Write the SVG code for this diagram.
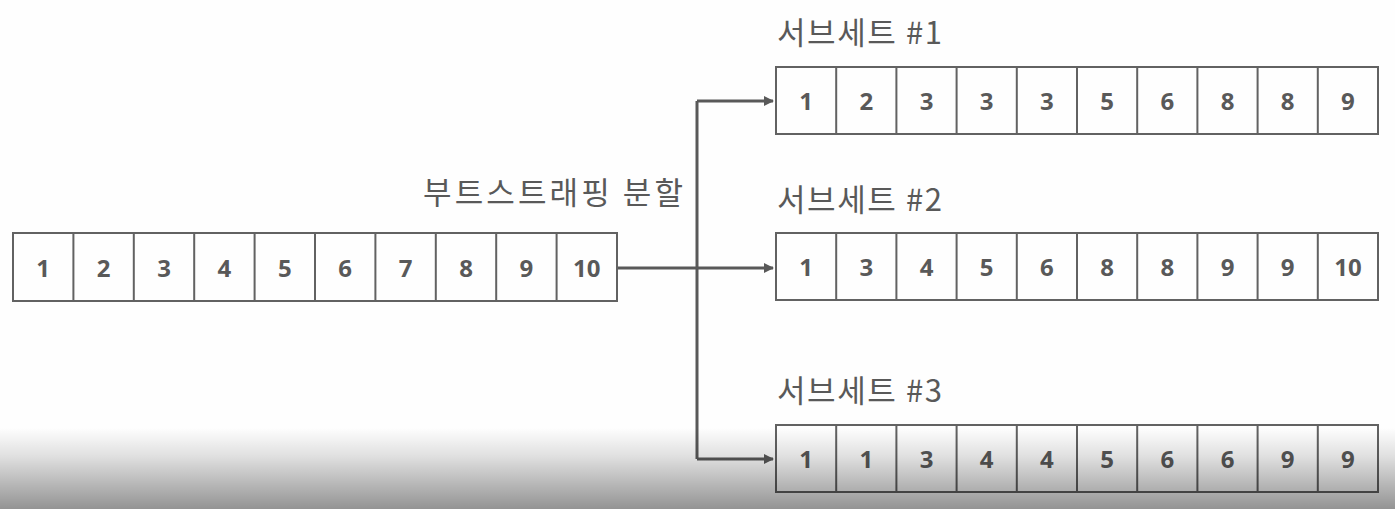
<svg xmlns="http://www.w3.org/2000/svg" width="1395" height="509" viewBox="0 0 1395 509">
<defs>
<style>
.cell{fill:none;stroke:#626262;stroke-width:2}
.num{font-family:"Open Sans","Liberation Sans",sans-serif;font-weight:700;font-size:24px;fill:#595959;text-anchor:middle}
.lbl{font-family:"Noto Sans CJK KR","Liberation Sans",sans-serif;font-size:31px;fill:#595959}
.conn{fill:none;stroke:#595959;stroke-width:3}
</style>
<marker id="ah" markerWidth="10" markerHeight="10" refX="9" refY="5" orient="auto" markerUnits="userSpaceOnUse">
<path d="M0,0 L10,5 L0,10 z" fill="#595959"/>
</marker>
<linearGradient id="shade" x1="0" y1="0" x2="0" y2="1">
<stop offset="0" stop-color="#000" stop-opacity="0"/>
<stop offset="0.35" stop-color="#000" stop-opacity="0.12"/>
<stop offset="1" stop-color="#000" stop-opacity="0.42"/>
</linearGradient>
</defs>
<rect width="1395" height="509" fill="#fefefe"/>
<g id="connectors">
<path class="conn" d="M617,268 H697 M697,101 V459 M697,101 H773" marker-end="url(#ah)"/>
<path class="conn" d="M697,268 H773" marker-end="url(#ah)"/>
<path class="conn" d="M697,459 H773" marker-end="url(#ah)"/>
</g>
<g id="source">
<rect class="cell" x="13" y="233" width="604" height="68"/>
<path class="cell" d="M73.4,233V301M133.8,233V301M194.2,233V301M254.6,233V301M315,233V301M375.4,233V301M435.8,233V301M496.2,233V301M556.6,233V301"/>
<text class="num" y="277"><tspan x="43.2">1</tspan><tspan x="103.6">2</tspan><tspan x="164">3</tspan><tspan x="224.4">4</tspan><tspan x="284.8">5</tspan><tspan x="345.2">6</tspan><tspan x="405.6">7</tspan><tspan x="466">8</tspan><tspan x="526.4">9</tspan><tspan x="586.8">10</tspan></text>
</g>
<g id="split-label">
<text class="lbl" x="423" y="204" textLength="260" lengthAdjust="spacing">부트스트래핑 분할</text>
</g>
<g id="subset1">
<text class="lbl" x="777" y="44" textLength="165" lengthAdjust="spacing">서브세트 #1</text>
<rect class="cell" x="776" y="67" width="602" height="67"/>
<path class="cell" d="M836.2,67V134M896.4,67V134M956.6,67V134M1016.8,67V134M1077,67V134M1137.2,67V134M1197.4,67V134M1257.6,67V134M1317.8,67V134"/>
<text class="num" y="110"><tspan x="806.1">1</tspan><tspan x="866.3">2</tspan><tspan x="926.5">3</tspan><tspan x="986.7">3</tspan><tspan x="1046.9">3</tspan><tspan x="1107.1">5</tspan><tspan x="1167.3">6</tspan><tspan x="1227.5">8</tspan><tspan x="1287.7">8</tspan><tspan x="1347.9">9</tspan></text>
</g>
<g id="subset2">
<text class="lbl" x="777" y="211" textLength="165" lengthAdjust="spacing">서브세트 #2</text>
<rect class="cell" x="776" y="233" width="602" height="67"/>
<path class="cell" d="M836.2,233V300M896.4,233V300M956.6,233V300M1016.8,233V300M1077,233V300M1137.2,233V300M1197.4,233V300M1257.6,233V300M1317.8,233V300"/>
<text class="num" y="276"><tspan x="806.1">1</tspan><tspan x="866.3">3</tspan><tspan x="926.5">4</tspan><tspan x="986.7">5</tspan><tspan x="1046.9">6</tspan><tspan x="1107.1">8</tspan><tspan x="1167.3">8</tspan><tspan x="1227.5">9</tspan><tspan x="1287.7">9</tspan><tspan x="1347.9">10</tspan></text>
</g>
<g id="subset3">
<text class="lbl" x="777" y="402" textLength="165" lengthAdjust="spacing">서브세트 #3</text>
<rect class="cell" x="776" y="425" width="602" height="67"/>
<path class="cell" d="M836.2,425V492M896.4,425V492M956.6,425V492M1016.8,425V492M1077,425V492M1137.2,425V492M1197.4,425V492M1257.6,425V492M1317.8,425V492"/>
<text class="num" y="468"><tspan x="806.1">1</tspan><tspan x="866.3">1</tspan><tspan x="926.5">3</tspan><tspan x="986.7">4</tspan><tspan x="1046.9">4</tspan><tspan x="1107.1">5</tspan><tspan x="1167.3">6</tspan><tspan x="1227.5">6</tspan><tspan x="1287.7">9</tspan><tspan x="1347.9">9</tspan></text>
</g>
<rect x="0" y="428" width="1395" height="81" fill="url(#shade)"/>
</svg>
